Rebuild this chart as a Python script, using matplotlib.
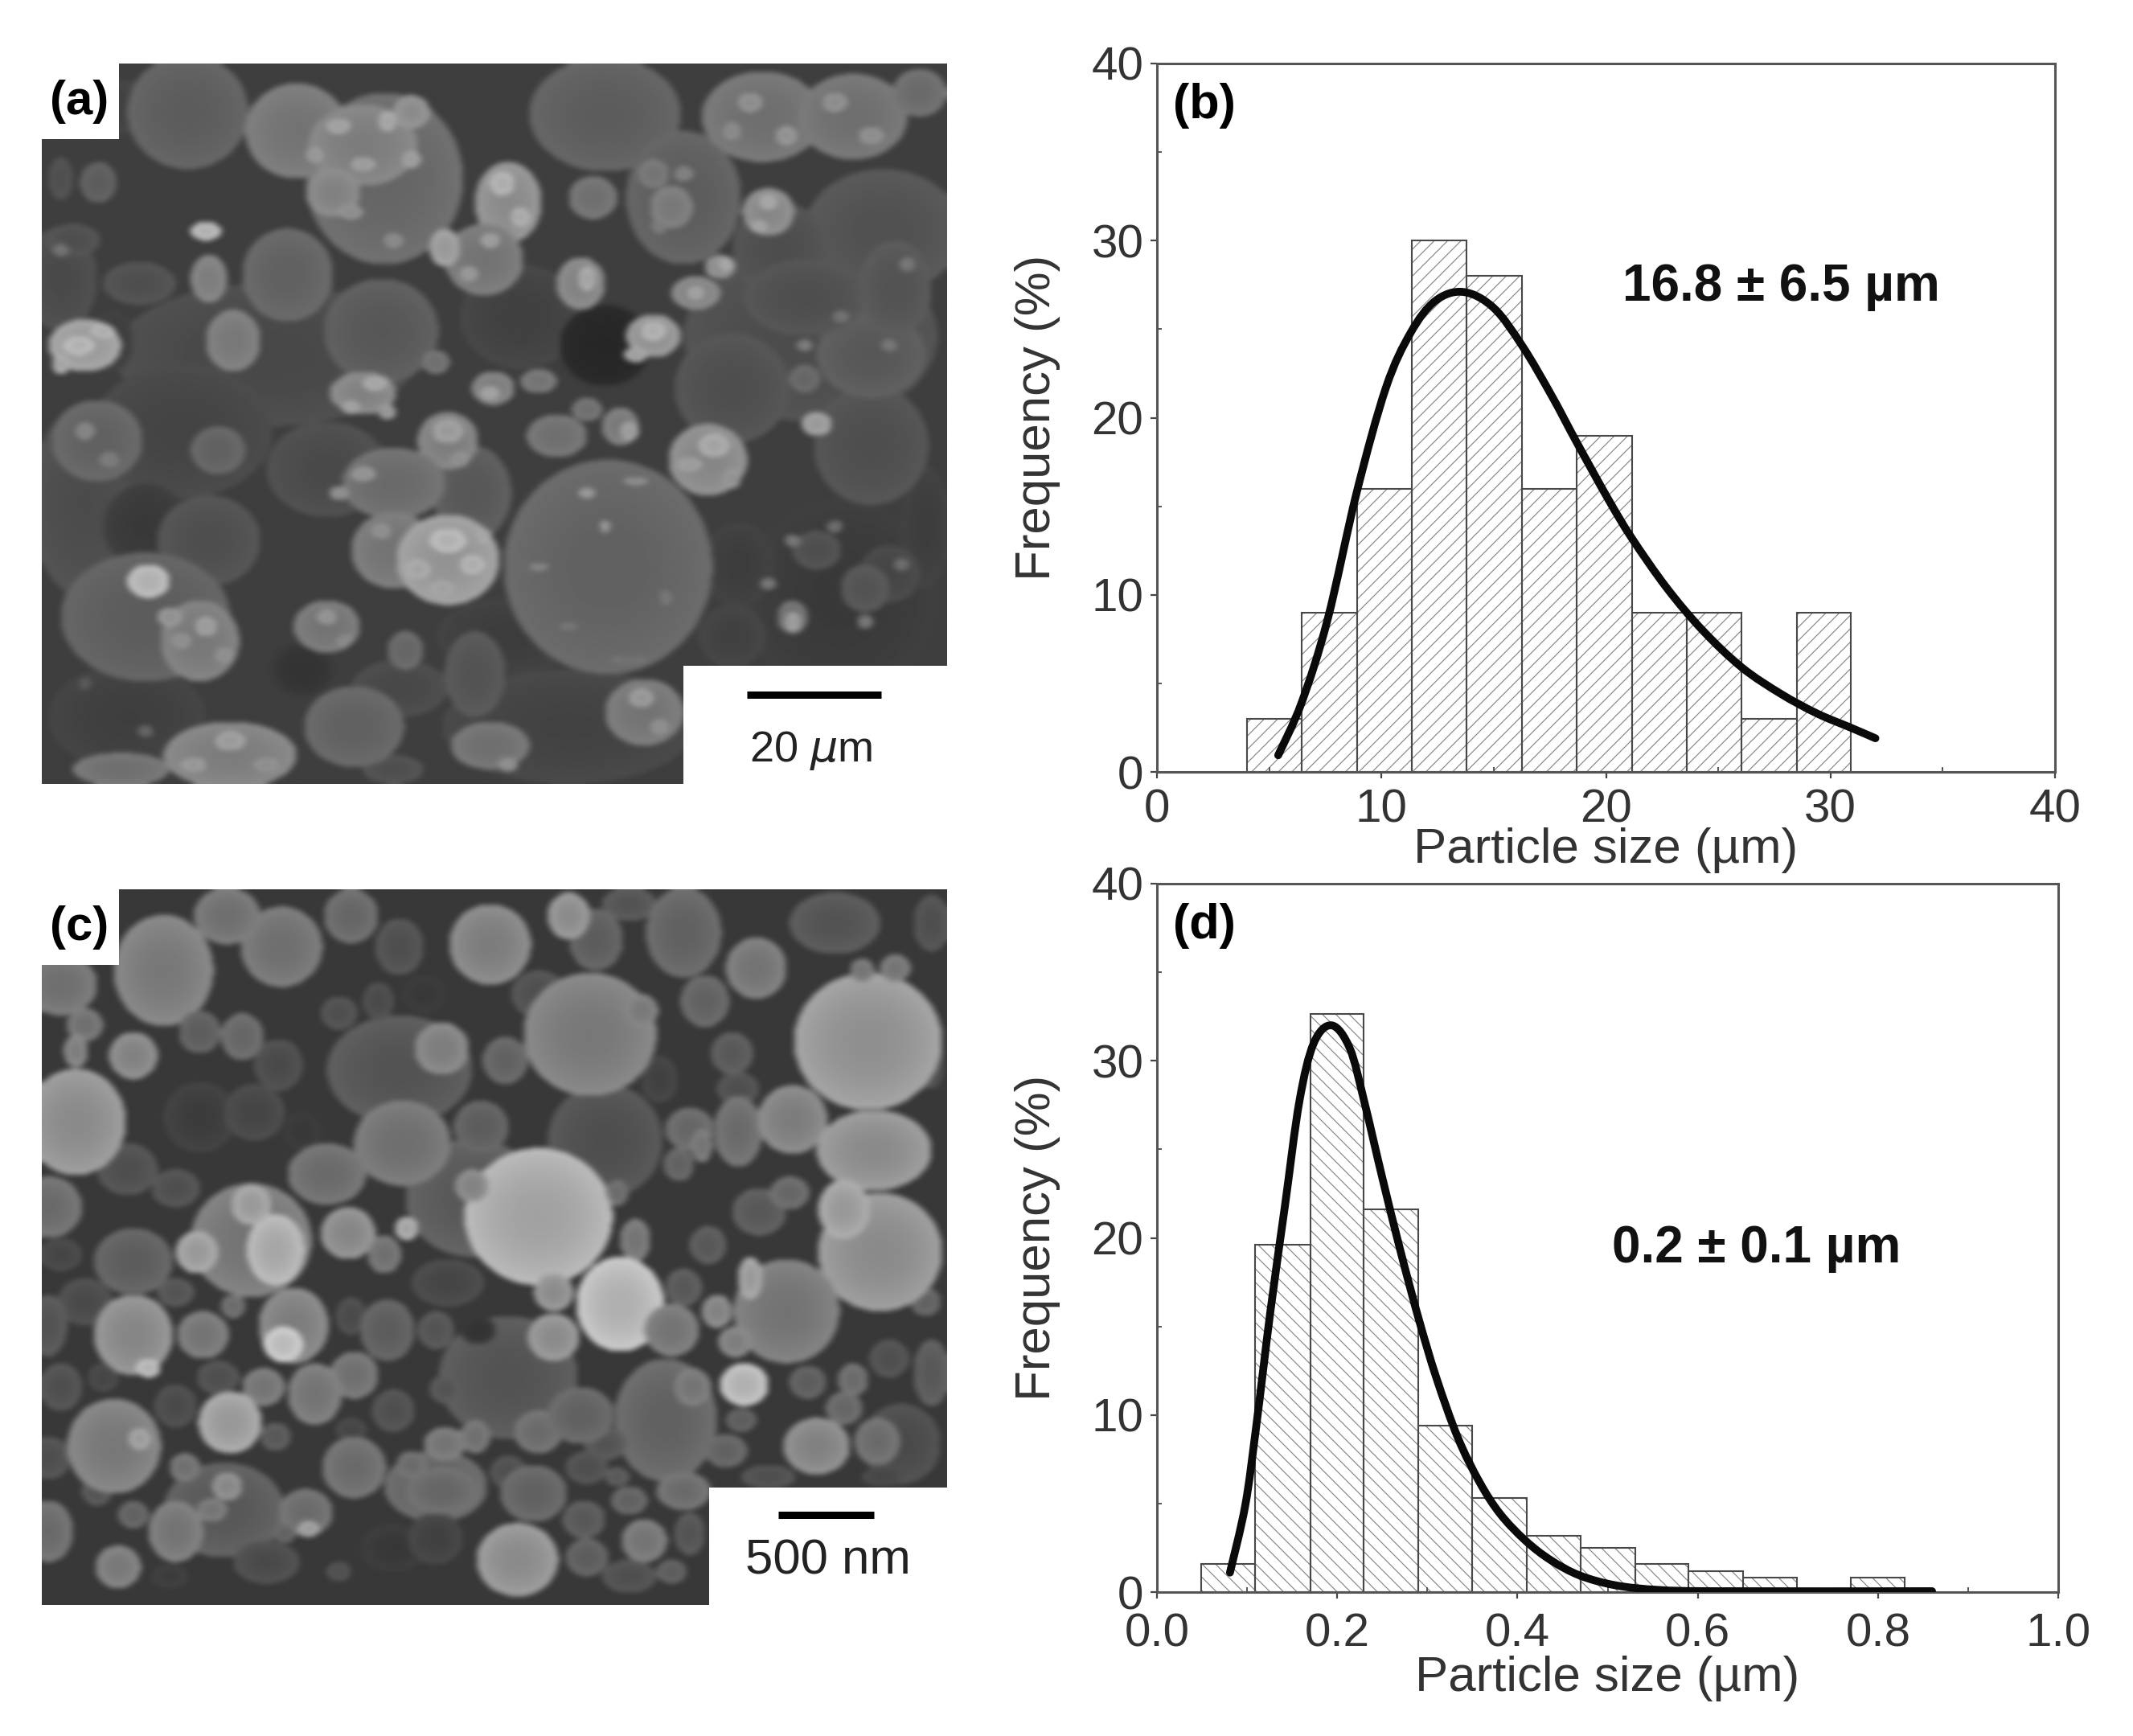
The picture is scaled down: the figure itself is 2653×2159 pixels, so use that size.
import numpy as np
import matplotlib
matplotlib.use("Agg")
import matplotlib.pyplot as plt
from matplotlib.patches import Rectangle, PathPatch
from matplotlib.path import Path

plt.rcParams["font.family"] = ["Liberation Sans", "DejaVu Sans"]
plt.rcParams["hatch.linewidth"] = 0.8

W, H = 2653, 2159

# -----------------------------
# histogram data
# -----------------------------
edges_b = [4.0, 6.44, 8.9, 11.35, 13.8, 16.25, 18.7, 21.15, 23.6, 26.05, 28.5, 30.9]
freq_b = [3, 9, 16, 30, 28, 16, 19, 9, 9, 3, 9]
curve_b_x = [5.4, 6.44, 7.6, 8.9, 10.2, 11.3, 12.4, 13.65, 15.0, 16.3, 17.6, 18.7, 20.1,
             21.15, 22.7, 24.3, 26.05, 27.8, 29.4, 30.9, 32.0]
curve_b_y = [0.94, 3.9, 8.6, 15.8, 21.7, 24.8, 26.6, 27.1, 26.2, 24.0, 21.2, 18.6, 15.4,
             13.2, 10.4, 8.0, 5.9, 4.4, 3.3, 2.5, 1.9]

edges_d = [0.049, 0.109, 0.170, 0.229, 0.29, 0.35, 0.41, 0.47, 0.531, 0.59, 0.65, 0.71, 0.77, 0.83]
freq_d = [1.6, 19.6, 32.65, 21.6, 9.4, 5.3, 3.2, 2.5, 1.6, 1.2, 0.8, 0, 0.8]
curve_d_x = [0.081, 0.098, 0.11, 0.126, 0.142, 0.158, 0.174, 0.194, 0.214, 0.23, 0.25, 0.27,
             0.29, 0.31, 0.334, 0.358, 0.381, 0.409, 0.437, 0.469, 0.509, 0.557, 0.62, 0.86]
curve_d_y = [1.1, 4.9, 9.3, 15.9, 21.8, 27.7, 31.0, 32.0, 30.7, 27.7, 23.4, 19.3,
             15.5, 12.1, 8.7, 6.2, 4.4, 2.9, 1.8, 0.94, 0.38, 0.12, 0.05, 0.05]

ticks_b = [0, 10, 20, 30, 40]
ticks_d = [0.0, 0.2, 0.4, 0.6, 0.8, 1.0]
ticks_y = [0, 10, 20, 30, 40]

# -----------------------------
# SEM pictures, rough particle maps (cx, cy, w, h, grey)
# -----------------------------
filler_a = [
    (400, 640, 500, 300, 78), (1300, 600, 420, 360, 82), (900, 1420, 420, 240, 72), (100, 950, 180, 400, 82),
    (1350, 1150, 320, 420, 62), (170, 1400, 260, 220, 68), (260, 800, 300, 280, 74), (1420, 380, 260, 260, 88),
    (1250, 420, 160, 200, 84), (130, 120, 200, 120, 70), (60, 480, 120, 220, 80), (500, 880, 200, 200, 80),
    (800, 1230, 240, 160, 66), (1280, 1400, 240, 180, 58), (620, 1340, 160, 120, 78), (820, 560, 200, 220, 70),
    (960, 620, 150, 170, 42), (1180, 1080, 120, 180, 66), (200, 1000, 140, 180, 62), (1490, 1000, 80, 260, 66),
]
particles_a = [
    (270, 130, 200, 240, 100), (960, 135, 250, 240, 100), (595, 270, 260, 360, 110), (1090, 310, 190, 280, 100),
    (122, 278, 60, 85, 100), (590, 590, 190, 220, 95), (1170, 710, 190, 230, 85), (1400, 830, 190, 250, 85),
    (305, 1030, 170, 190, 85), (460, 1300, 100, 110, 55), (745, 1310, 100, 180, 90), (1170, 1230, 110, 130, 70),
    (610, 1510, 100, 60, 85), (145, 610, 70, 130, 65), (1400, 640, 180, 180, 95), (1290, 520, 200, 160, 85),
    (1440, 500, 120, 200, 90), (80, 400, 90, 70, 85), (190, 490, 120, 90, 85), (60, 270, 40, 90, 85),
    (1310, 1050, 80, 80, 85), (1430, 1100, 100, 120, 75), (1390, 1130, 80, 100, 90),
    (120, 820, 150, 170, 105), (320, 840, 90, 100, 105), (740, 930, 130, 200, 95),
    (450, 170, 170, 200, 125), (560, 200, 180, 170, 135), (640, 130, 60, 70, 150), (510, 300, 90, 100, 140),
    (800, 320, 110, 170, 150), (760, 440, 130, 150, 125), (695, 415, 50, 80, 165),
    (1230, 340, 85, 100, 145), (940, 310, 80, 90, 120), (1220, 140, 200, 190, 120), (1370, 140, 180, 180, 120),
    (1480, 90, 90, 100, 115), (1070, 330, 70, 90, 130), (1040, 260, 50, 60, 125),
    (435, 472, 150, 195, 105), (100, 620, 120, 110, 165), (300, 380, 50, 40, 190), (305, 480, 60, 100, 135),
    (345, 610, 90, 130, 130), (920, 490, 80, 110, 140), (1040, 600, 90, 90, 155), (1110, 510, 80, 70, 140),
    (1150, 455, 50, 50, 150), (560, 720, 110, 90, 140), (775, 710, 70, 70, 135), (850, 695, 60, 50, 125),
    (680, 655, 45, 50, 120), (880, 810, 100, 90, 120), (985, 790, 60, 80, 130), (930, 755, 50, 50, 120),
    (1130, 860, 130, 150, 145), (1310, 785, 50, 50, 165), (700, 820, 100, 120, 135), (610, 910, 170, 150, 115),
    (610, 1050, 140, 160, 125), (700, 1070, 170, 190, 160), (500, 1210, 110, 110, 125), (630, 1260, 60, 80, 110),
    (200, 1190, 280, 270, 100), (290, 1240, 130, 170, 130), (205, 1115, 70, 70, 190), (240, 1190, 40, 40, 155),
    (1025, 1390, 130, 140, 125), (340, 1480, 220, 140, 135), (160, 1510, 160, 70, 120), (770, 1460, 130, 100, 120),
    (545, 1420, 165, 170, 105), (1270, 1190, 50, 70, 120), (1290, 690, 50, 60, 110),
]
specks_a = [
    (520, 160, 40, 30, 170), (600, 150, 30, 40, 175), (560, 240, 40, 30, 165), (480, 220, 30, 30, 160),
    (640, 230, 30, 35, 165), (540, 340, 40, 30, 150), (610, 400, 30, 30, 145), (790, 280, 40, 50, 185),
    (820, 350, 30, 40, 180), (770, 400, 30, 30, 165), (735, 470, 30, 30, 160), (1200, 110, 40, 40, 150),
    (1260, 180, 35, 40, 155), (1170, 170, 30, 35, 145), (1340, 110, 40, 40, 150), (1400, 180, 40, 35, 150),
    (1230, 320, 30, 30, 175), (1215, 370, 25, 25, 170), (1090, 260, 30, 30, 135), (1050, 370, 25, 30, 130),
    (90, 620, 50, 40, 190), (130, 590, 40, 30, 185), (60, 660, 30, 40, 175), (1040, 590, 40, 40, 185),
    (1010, 640, 40, 30, 170), (930, 480, 30, 50, 175), (1110, 510, 30, 30, 170), (1160, 450, 25, 25, 175),
    (580, 700, 40, 30, 175), (540, 750, 30, 30, 170), (600, 760, 30, 30, 160), (770, 720, 30, 30, 170),
    (1000, 800, 30, 40, 165), (1140, 830, 50, 50, 175), (1100, 870, 40, 30, 165), (1170, 900, 30, 40, 155),
    (700, 800, 50, 50, 165), (720, 860, 30, 30, 150), (560, 890, 40, 30, 155), (520, 930, 30, 30, 150),
    (700, 1030, 60, 50, 190), (740, 1080, 40, 40, 185), (650, 1090, 40, 40, 175), (690, 1130, 40, 30, 170),
    (760, 1020, 25, 30, 175), (590, 1010, 30, 30, 150), (500, 1190, 30, 30, 155), (530, 1240, 25, 25, 145),
    (300, 1210, 35, 40, 165), (260, 1240, 30, 30, 150), (330, 1270, 30, 30, 150), (1020, 1360, 40, 40, 160),
    (1050, 1420, 30, 30, 150), (340, 1450, 50, 40, 165), (280, 1500, 40, 30, 160), (400, 1500, 40, 30, 150),
    (1270, 1030, 25, 25, 125), (1340, 1000, 25, 25, 115), (1230, 1120, 25, 25, 125), (1390, 1200, 25, 30, 125),
    (1270, 1200, 25, 40, 165), (1450, 1080, 25, 25, 115), (1430, 620, 25, 25, 125), (1350, 560, 25, 25, 120),
    (1460, 450, 25, 30, 125), (1290, 620, 25, 25, 130), (100, 800, 30, 35, 140), (140, 860, 30, 30, 130),
    (60, 420, 25, 25, 120), (100, 1330, 20, 25, 95), (200, 1430, 25, 25, 105), (800, 1500, 30, 30, 150),
]
big_sphere_a = [
    (965, 1085, 345, 450, 105), (930, 930, 30, 20, 160), (1010, 905, 40, 15, 150), (960, 1000, 15, 25, 160),
    (850, 1085, 30, 15, 140), (1000, 1280, 60, 15, 120), (900, 1210, 25, 15, 125), (1060, 1150, 20, 30, 125),
]

filler_c = [
    (620, 410, 240, 230, 90), (960, 560, 190, 240, 85), (800, 1060, 230, 260, 90), (1060, 1150, 170, 260, 105),
    (290, 510, 120, 150, 65), (740, 680, 220, 250, 95), (1450, 1200, 130, 170, 80), (330, 1340, 200, 200, 95),
    (680, 1290, 170, 150, 105), (1430, 1020, 65, 80, 85), (1500, 100, 60, 120, 85), (620, 150, 80, 120, 85),
    (660, 250, 70, 80, 60), (850, 250, 90, 100, 85), (1000, 60, 90, 70, 90), (1340, 100, 150, 130, 90),
    (1330, 420, 80, 100, 75), (1180, 450, 70, 70, 85), (1050, 430, 60, 100, 70), (380, 500, 100, 120, 75),
    (460, 540, 60, 80, 60), (170, 620, 100, 110, 85), (250, 660, 80, 80, 85), (130, 520, 60, 80, 80),
    (100, 900, 90, 100, 80), (40, 950, 60, 130, 90), (60, 1080, 70, 100, 85), (130, 1060, 50, 60, 75),
    (60, 800, 70, 70, 75), (250, 1120, 70, 90, 80), (700, 860, 120, 100, 75), (750, 960, 60, 60, 55),
    (680, 960, 60, 80, 90), (960, 1200, 70, 70, 90), (1130, 780, 60, 80, 95), (1090, 870, 60, 80, 95),
    (1500, 1050, 60, 140, 95), (1490, 900, 50, 60, 105), (1500, 400, 40, 100, 80), (40, 1230, 70, 90, 85),
    (120, 1300, 50, 60, 90), (400, 1450, 110, 90, 80), (240, 1480, 60, 50, 65), (610, 1420, 110, 100, 60),
    (680, 1400, 90, 110, 70), (1000, 1480, 90, 70, 85), (1100, 1390, 50, 90, 90), (800, 1260, 60, 70, 85),
    (610, 1130, 70, 90, 85), (540, 1170, 50, 50, 75), (1230, 1270, 90, 50, 85), (1420, 1270, 70, 40, 75),
]
particles_c = [
    (425, 150, 135, 170, 120), (335, 85, 110, 120, 120), (540, 85, 90, 115, 110), (230, 200, 165, 235, 130),
    (770, 145, 135, 170, 135), (1090, 120, 125, 190, 105), (945, 135, 90, 130, 100), (900, 85, 70, 100, 150),
    (1210, 195, 100, 130, 125), (60, 230, 120, 130, 120), (180, 380, 80, 100, 140), (100, 315, 60, 70, 120),
    (85, 370, 40, 70, 135), (290, 330, 70, 90, 100), (360, 340, 70, 100, 110), (420, 400, 80, 110, 80),
    (520, 290, 60, 70, 85), (585, 265, 50, 80, 80), (690, 365, 90, 110, 135), (795, 390, 75, 100, 105),
    (85, 520, 165, 225, 150), (935, 335, 220, 260, 130), (1020, 285, 55, 70, 130), (1125, 265, 80, 110, 105),
    (1395, 350, 245, 290, 155), (1440, 195, 50, 60, 125), (1385, 200, 40, 50, 125), (1170, 375, 70, 90, 95),
    (1100, 535, 80, 90, 110), (1180, 540, 80, 150, 115), (1270, 515, 115, 145, 135), (1405, 580, 190, 170, 150),
    (1082, 610, 50, 70, 105), (1120, 570, 35, 70, 125), (1215, 710, 90, 100, 95), (1265, 670, 65, 70, 110),
    (1415, 795, 205, 250, 150), (1355, 705, 85, 125, 165), (625, 565, 160, 180, 120), (755, 530, 90, 110, 100),
    (500, 630, 130, 130, 115), (40, 700, 110, 130, 115), (180, 815, 130, 140, 100), (375, 770, 200, 240, 125),
    (285, 795, 70, 90, 165), (415, 790, 95, 150, 180), (375, 695, 65, 85, 165), (535, 755, 90, 110, 145),
    (595, 800, 55, 80, 120), (632, 745, 38, 50, 175), (850, 720, 245, 290, 175), (740, 655, 55, 70, 140),
    (980, 670, 35, 55, 115), (1010, 770, 50, 90, 125), (875, 880, 65, 80, 150), (875, 975, 85, 100, 150),
    (985, 905, 145, 200, 190), (1070, 960, 90, 110, 125), (1260, 920, 175, 220, 125), (1200, 850, 40, 90, 165),
    (1145, 920, 50, 70, 140), (1175, 985, 55, 65, 135), (1105, 1080, 60, 80, 125), (1190, 1075, 80, 90, 190),
    (1295, 1070, 60, 70, 100), (1370, 1065, 50, 70, 115), (1355, 1125, 60, 70, 110), (1185, 1150, 50, 50, 100),
    (1160, 1215, 70, 70, 105), (1310, 1205, 110, 120, 140), (1410, 1195, 75, 100, 115),
    (180, 970, 130, 170, 145), (205, 1040, 40, 40, 190), (295, 970, 85, 100, 125), (250, 880, 60, 60, 90),
    (445, 950, 115, 160, 135), (428, 990, 65, 75, 200), (345, 910, 40, 50, 115), (540, 930, 50, 80, 80),
    (600, 960, 90, 130, 100), (545, 1055, 80, 100, 120), (480, 1095, 90, 130, 125), (395, 1080, 70, 80, 125),
    (320, 1060, 70, 70, 85), (148, 1205, 155, 200, 130), (190, 1190, 35, 45, 165), (340, 1155, 105, 130, 165),
    (265, 1250, 50, 60, 120), (545, 1250, 105, 130, 115), (415, 1185, 50, 60, 95), (335, 1290, 50, 60, 145),
    (310, 1340, 50, 50, 125), (250, 1385, 90, 130, 125), (180, 1350, 50, 60, 105), (155, 1460, 75, 90, 130),
    (40, 1385, 80, 130, 115), (465, 1345, 90, 100, 115), (470, 1380, 35, 35, 165), (430, 1390, 35, 40, 105),
    (640, 1245, 50, 60, 115), (695, 1200, 70, 70, 125), (745, 1185, 50, 70, 120), (695, 1085, 50, 60, 90),
    (850, 1175, 80, 90, 115), (920, 1140, 110, 120, 105), (930, 1250, 70, 70, 85), (842, 1305, 110, 120, 105),
    (925, 1360, 70, 80, 95), (1000, 1320, 60, 60, 105), (1025, 1405, 75, 90, 125), (815, 1445, 135, 155, 150),
    (930, 1440, 70, 80, 100), (690, 1300, 120, 100, 110), (1090, 1300, 90, 80, 115), (980, 1270, 40, 40, 95),
    (1070, 1470, 50, 50, 100), (520, 1470, 40, 40, 85),
]


def px_axes(left, top, right, bottom):
    return fig.add_axes([left / W, 1 - bottom / H, (right - left) / W, (bottom - top) / H])


def render_sem(particles, background, limb):
    # paint the particles back to front on a grid, then soften it like the scan
    xs, ys = np.meshgrid(np.arange(30, 1526, 3), np.arange(30, 1542, 3))
    img = np.full(xs.shape, background, dtype=float)
    for cx, cy, w, h, grey in particles:
        d2 = ((xs - cx) / (w / 2)) ** 2 + ((ys - cy) / (h / 2)) ** 2
        shade = grey * (0.92 + limb * d2)
        img = np.where(d2 < 1, shade, img)
    kernel = np.array([1, 2, 3, 4, 3, 2, 1], dtype=float)
    kernel /= kernel.sum()
    pad = np.pad(img, 3, mode="edge")
    pad = np.apply_along_axis(lambda r: np.convolve(r, kernel, mode="same"), 0, pad)
    pad = np.apply_along_axis(lambda r: np.convolve(r, kernel, mode="same"), 1, pad)
    return pad[3:-3, 3:-3]


def sem_panel(box, particles, background, limb, label, label_box, scale_box, bar, scale_text, text_xy, text_size):
    left, top, right, bottom = box
    ax = px_axes(left, top, right, bottom)
    ax.imshow(render_sem(particles, background, limb), cmap="gray", vmin=0, vmax=255, aspect="auto",
              interpolation="bilinear", extent=(left, right, bottom, top))
    ax.set_xlim(left, right)
    ax.set_ylim(bottom, top)
    ax.axis("off")
    # white corners with the panel label and the scale bar
    ax.add_patch(Rectangle((left, top), label_box[0] - left, label_box[1] - top, color="white", zorder=3, lw=0))
    ax.add_patch(Rectangle((scale_box[0], scale_box[1]), right - scale_box[0], bottom - scale_box[1],
                           color="white", zorder=3, lw=0))
    ax.text(left + 47, top + 48, label, fontsize=43, fontweight="bold", ha="center", va="center", zorder=4)
    ax.plot([bar[0], bar[1]], [bar[2], bar[2]], color="black", lw=6.5, solid_capstyle="butt", zorder=4)
    ax.text(text_xy[0], text_xy[1], scale_text, fontsize=text_size, ha="center", va="center", zorder=4, color="#222222")


def smooth_path(x, y):
    # bezier line through the read points
    pts = np.column_stack([x, y])
    verts = [pts[0]]
    codes = [Path.MOVETO]
    for i in range(len(pts) - 1):
        p0 = pts[max(i - 1, 0)]
        p1 = pts[i]
        p2 = pts[i + 1]
        p3 = pts[min(i + 2, len(pts) - 1)]
        verts += [p1 + (p2 - p0) / 6, p2 - (p3 - p1) / 6, p2]
        codes += [Path.CURVE4] * 3
    return Path(verts, codes)


def hist_panel(box, edges, freq, curve_x, curve_y, xlim, xticks, xfmt, hatch, label, note, note_xy, pad, labelpad):
    ax = px_axes(*box)
    edges = np.array(edges)
    ax.bar(edges[:-1], freq, width=np.diff(edges), align="edge", facecolor="white",
           edgecolor="#808080", hatch=hatch, linewidth=0)
    ax.bar(edges[:-1], freq, width=np.diff(edges), align="edge", fill=False, edgecolor="#484848", linewidth=1.5)
    ax.add_patch(PathPatch(smooth_path(curve_x, curve_y), fill=False, edgecolor="#0a0a0a", lw=7,
                           capstyle="round", joinstyle="round", zorder=5))
    ax.set_xlim(*xlim)
    ax.set_ylim(0, 40)
    ax.set_xticks(xticks)
    ax.set_xticklabels([xfmt.format(t) for t in xticks])
    ax.set_yticks(ticks_y)
    ax.set_xticks([(a + b) / 2 for a, b in zip(xticks[:-1], xticks[1:])], minor=True)
    ax.set_yticks([5, 15, 25, 35], minor=True)
    ax.tick_params(which="major", direction="out", length=6, width=1.6, color="#444444",
                   labelsize=42, labelcolor="#333333")
    ax.tick_params(axis="x", which="major", pad=pad)
    ax.tick_params(axis="y", which="major", pad=6)
    ax.tick_params(which="minor", direction="in", length=4, width=1.4, color="#555555")
    for s in ax.spines.values():
        s.set_linewidth(2.2)
        s.set_color("#555555")
    ax.set_xlabel("Particle size (µm)", fontsize=44.5, color="#333333", labelpad=labelpad)
    ax.set_ylabel("Frequency (%)", fontsize=44.5, color="#333333", labelpad=28)
    ax.text(0.018, 0.94, label, transform=ax.transAxes, fontsize=44, fontweight="bold", ha="left", va="center")
    ax.text(note_xy[0], note_xy[1], note, transform=ax.transAxes, fontsize=46, fontweight="bold",
            ha="center", va="center", color="#111111")
    return ax


fig = plt.figure(figsize=(W / 100, H / 100), dpi=100)

sem_panel((52, 79, 1178, 975), filler_a + particles_a + specks_a + big_sphere_a, 62, 0.12, "(a)", (148, 173),
          (850, 828), (929, 1096, 864), "20 $\\mu$m", (1009, 934), 39)
sem_panel((52, 1106, 1178, 1996), filler_c + particles_c, 56, 0.16, "(c)", (148, 1200),
          (882, 1850), (968, 1087, 1884), "500 nm", (1030, 1942), 44.5)

hist_panel((1439, 79, 2556, 960), edges_b, freq_b, curve_b_x, curve_b_y, (0, 40), ticks_b, "{:d}", "//",
           "(b)", "16.8 ± 6.5 µm", (0.695, 0.685), 9, -4)
hist_panel((1439, 1099, 2560, 1980), edges_d, freq_d, curve_d_x, curve_d_y, (0, 1.0), ticks_d, "{:.1f}", "\\\\",
           "(d)", "0.2 ± 0.1 µm", (0.665, 0.485), 12, 0)

fig.savefig("out.png", dpi=100, facecolor="white")
